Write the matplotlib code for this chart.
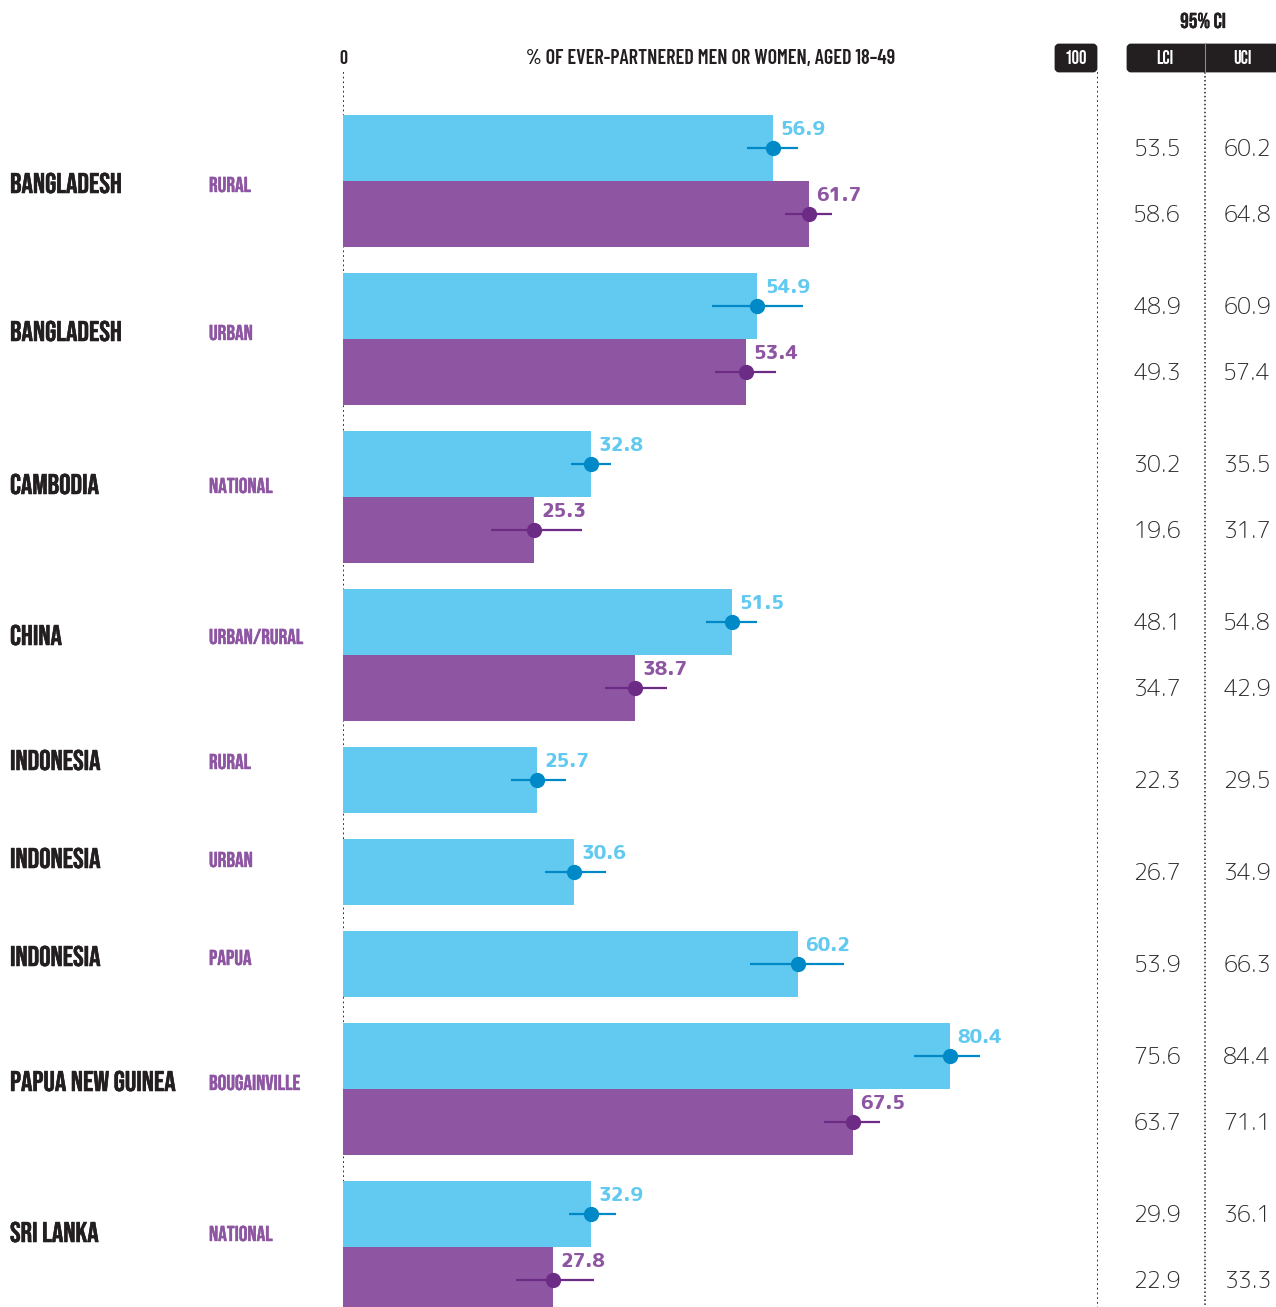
import matplotlib
matplotlib.use("Agg")
import matplotlib.pyplot as plt
from matplotlib.patches import FancyBboxPatch
import matplotlib.patheffects as pe

# ---------------- data ----------------
countries = ["BANGLADESH", "BANGLADESH", "CAMBODIA", "CHINA", "INDONESIA",
             "INDONESIA", "INDONESIA", "PAPUA NEW GUINEA", "SRI LANKA"]
settings = ["RURAL", "URBAN", "NATIONAL", "URBAN/RURAL", "RURAL",
            "URBAN", "PAPUA", "BOUGAINVILLE", "NATIONAL"]
men = [56.9, 54.9, 32.8, 51.5, 25.7, 30.6, 60.2, 80.4, 32.9]
men_lci = [53.5, 48.9, 30.2, 48.1, 22.3, 26.7, 53.9, 75.6, 29.9]
men_uci = [60.2, 60.9, 35.5, 54.8, 29.5, 34.9, 66.3, 84.4, 36.1]
women = [61.7, 53.4, 25.3, 38.7, None, None, None, 67.5, 27.8]
women_lci = [58.6, 49.3, 19.6, 34.7, None, None, None, 63.7, 22.9]
women_uci = [64.8, 57.4, 31.7, 42.9, None, None, None, 71.1, 33.3]
title = "% OF EVER-PARTNERED MEN OR WOMEN, AGED 18–49"

# ---------------- style ----------------
CYAN, CYAN_DK = "#62C9F0", "#0089C7"
PURP, PURP_DK = "#8E56A2", "#6C2C86"
INK = "#231F20"
COND = ["Barlow Condensed", "Roboto Condensed", "DejaVu Sans"]
BEBAS = ["Bebas Neue", "Barlow Condensed", "DejaVu Sans"]
ROUND = ["Rounded Mplus 1c", "Varela Round", "DejaVu Sans"]


def bold(color, w):
    return [pe.withStroke(linewidth=w, foreground=color)]


W, H = 1276, 1307
fig = plt.figure(figsize=(W / 100, H / 100), dpi=100)

# overlay axes in pixel units for labels / header
ov = fig.add_axes([0, 0, 1, 1])
ov.set_xlim(0, W)
ov.set_ylim(H, 0)
ov.axis("off")

# bar axes: 0..100 spans pixels 343..1098
X0, X1 = 343, 1098
ax = fig.add_axes([X0 / W, 0, (X1 - X0) / W, 1])
ax.set_xlim(0, 100)
ax.set_ylim(H, 0)
ax.axis("off")
ax.patch.set_alpha(0)

# layout
top0, bar_h, gap = 115, 66, 26
label_off = [68, 58, 53, 46, 13, 19, 25, 58, 51]

# dotted guide lines
dot = (0, (1, 1.6))
ax.plot([0, 0], [72, H], color=INK, lw=1.3, ls=dot, zorder=1)
ax.plot([100, 100], [72, H], color=INK, lw=1.3, ls=dot, zorder=1)
ov.plot([1205, 1205], [72, H], color=INK, lw=1.1, ls=dot, zorder=1)

y = top0
for i in range(len(men)):
    series = [(men[i], men_lci[i], men_uci[i], CYAN, CYAN_DK)]
    if women[i] is not None:
        series.append((women[i], women_lci[i], women_uci[i], PURP, PURP_DK))
    gtop = y
    for (v, lo, hi, c, cd) in series:
        ax.barh(y, v, height=bar_h, align="edge", color=c, zorder=2, lw=0)
        yc = y + bar_h / 2
        ax.plot([lo, hi], [yc, yc], color=cd, lw=1.6, zorder=3, solid_capstyle="butt")
        ax.plot([v], [yc], "o", color=cd, ms=11, zorder=4, mew=0)
        ax.text(v + 1.0, y + 20, f"{v:.1f}", color=c, fontsize=14,
                family=ROUND, fontweight="bold", va="baseline", ha="left", zorder=5)
        ov.text(1181, yc + 8, f"{lo:.1f}", color="#2b2b2b", fontsize=16.5,
                family=ROUND, fontweight=300, va="baseline", ha="right")
        ov.text(1271, yc + 8, f"{hi:.1f}", color="#2b2b2b", fontsize=16.5,
                family=ROUND, fontweight=300, va="baseline", ha="right")
        y += bar_h
    ly = gtop + label_off[i]
    ov.text(10, ly + 10, countries[i], color=INK, fontsize=20.5, family=BEBAS,
            fontweight=400, va="baseline", ha="left", path_effects=bold(INK, 0.4))
    ov.text(209, ly + 9, settings[i], color=PURP, fontsize=15.5, family=BEBAS,
            fontweight=400, va="baseline", ha="left", path_effects=bold(PURP, 0.3))
    y += gap

# header
ov.text(343, 64, "0", color=INK, fontsize=14.5, family=BEBAS,
        va="baseline", ha="center")
ov.text(711, 58, title, color=INK, fontsize=14.5, family=COND, fontweight=600,
        va="center", ha="center")
ov.add_patch(FancyBboxPatch((1056, 45), 40, 26, boxstyle="round,pad=0,rounding_size=3",
                            fc=INK, ec=INK, lw=2, zorder=3))
ov.text(1076, 64, "100", color="white", fontsize=13.5, family=BEBAS,
        va="baseline", ha="center", zorder=4)
ov.add_patch(FancyBboxPatch((1128, 45), 150, 26, boxstyle="round,pad=0,rounding_size=3",
                            fc=INK, ec=INK, lw=2, zorder=3))
ov.plot([1205, 1205], [43, 73], color="#8a8a8a", lw=0.8, zorder=4)
ov.text(1165, 64, "LCI", color="white", fontsize=13.5, family=BEBAS,
        va="baseline", ha="center", zorder=4)
ov.text(1242, 64, "UCI", color="white", fontsize=13.5, family=BEBAS,
        va="baseline", ha="center", zorder=4)
ov.text(1203, 28, "95% CI", color=INK, fontsize=15.5, family=BEBAS,
        va="baseline", ha="center", path_effects=bold(INK, 0.25))

fig.savefig("out.png", dpi=100)
